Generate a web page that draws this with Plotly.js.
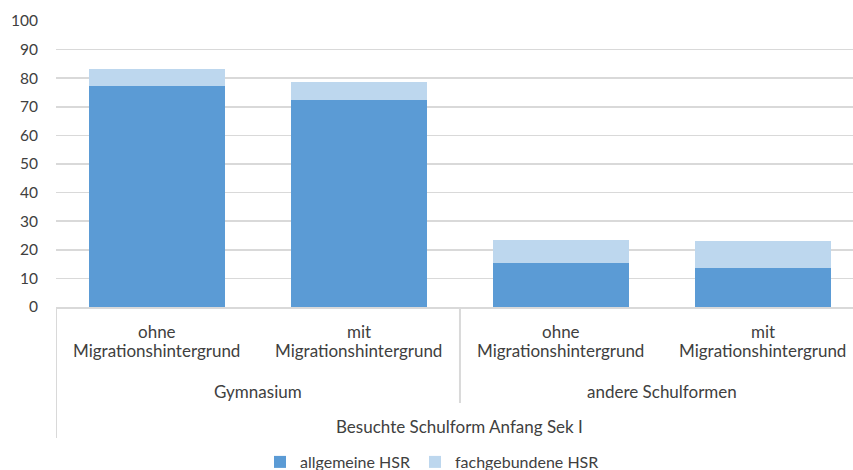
<!DOCTYPE html>
<html><head><meta charset="utf-8">
<script src="https://cdn.plot.ly/plotly-3.0.1.min.js"></script>
<style>html,body{margin:0;padding:0;background:#fff}#chart{width:853px;height:470px}</style>
</head><body><div id="chart"></div>
<script>
const subTop = ["ohne", "mit", "ohne", "mit"];
const subBottom = ["Migrationshintergrund", "Migrationshintergrund", "Migrationshintergrund", "Migrationshintergrund"];
const groupLabels = ["Gymnasium", "andere Schulformen"];
const axisTitle = "Besuchte Schulform Anfang Sek I";
const seriesNames = ["allgemeine HSR", "fachgebundene HSR"];
const allgemeine = [77.3, 72.4, 15.4, 13.7];
const fachgebunden = [5.9, 6.3, 7.9, 9.4];
const yTicks = [0, 10, 20, 30, 40, 50, 60, 70, 80, 90, 100];

const FONT = "Lato, 'Noto Sans', sans-serif";
const TXT = "#404040";
const xs = subTop.map((_, i) => i);

const traces = [
  {type: "bar", x: xs, y: allgemeine, name: seriesNames[0], marker: {color: "#5b9bd5"}, width: 0.673, hoverinfo: "y"},
  {type: "bar", x: xs, y: fachgebunden, name: seriesNames[1], marker: {color: "#bdd7ee"}, width: 0.673, hoverinfo: "y"}
];

const py = p => (307 - p) / 286;
const ann = [];
subTop.forEach((t, i) => ann.push({x: i, xref: "x", y: py(331), yref: "paper", yanchor: "middle", text: t, showarrow: false, font: {family: FONT, size: 17, color: TXT}}));
subBottom.forEach((t, i) => ann.push({x: i, xref: "x", y: py(350), yref: "paper", yanchor: "middle", text: t, showarrow: false, font: {family: FONT, size: 17, color: TXT}}));
groupLabels.forEach((t, g) => ann.push({x: 2 * g + 0.5, xref: "x", y: py(391), yref: "paper", yanchor: "middle", text: t, showarrow: false, font: {family: FONT, size: 17, color: TXT}}));
ann.push({x: 1.5, xref: "x", y: py(426), yref: "paper", yanchor: "middle", text: axisTitle, showarrow: false, font: {family: FONT, size: 17, color: TXT}});

const shapes = [
  {type: "line", xref: "x", yref: "paper", x0: -0.5, x1: -0.5, y0: 0, y1: py(438), line: {color: "#d9d9d9", width: 2}},
  {type: "line", xref: "x", yref: "paper", x0: 1.5, x1: 1.5, y0: 0, y1: py(403), line: {color: "#d9d9d9", width: 2}}
];

const layout = {
  width: 853, height: 470,
  margin: {l: 56, r: 0, t: 21, b: 163},
  barmode: "stack",
  paper_bgcolor: "#fff", plot_bgcolor: "#fff",
  xaxis: {range: [-0.5, 3.446], showticklabels: false, ticks: "", showgrid: false, zeroline: false, showline: true, linecolor: "#d9d9d9", linewidth: 2, fixedrange: true, automargin: false},
  yaxis: {range: [0, 100], tickvals: yTicks, ticktext: yTicks.map(String), gridcolor: "#d9d9d9", gridwidth: 1.5, zeroline: false, showline: false, ticks: "", ticklabelstandoff: 17, tickfont: {family: FONT, size: 15.5, color: TXT}, fixedrange: true, automargin: false},
  showlegend: true,
  legend: {orientation: "h", xref: "container", yref: "container", x: 260 / 853, xanchor: "left", y: 8 / 470, yanchor: "middle", font: {family: FONT, size: 16, color: TXT}, traceorder: "normal"},
  annotations: ann,
  shapes: shapes
};
Plotly.newPlot("chart", traces, layout, {displayModeBar: false, staticPlot: true});
</script></body></html>
